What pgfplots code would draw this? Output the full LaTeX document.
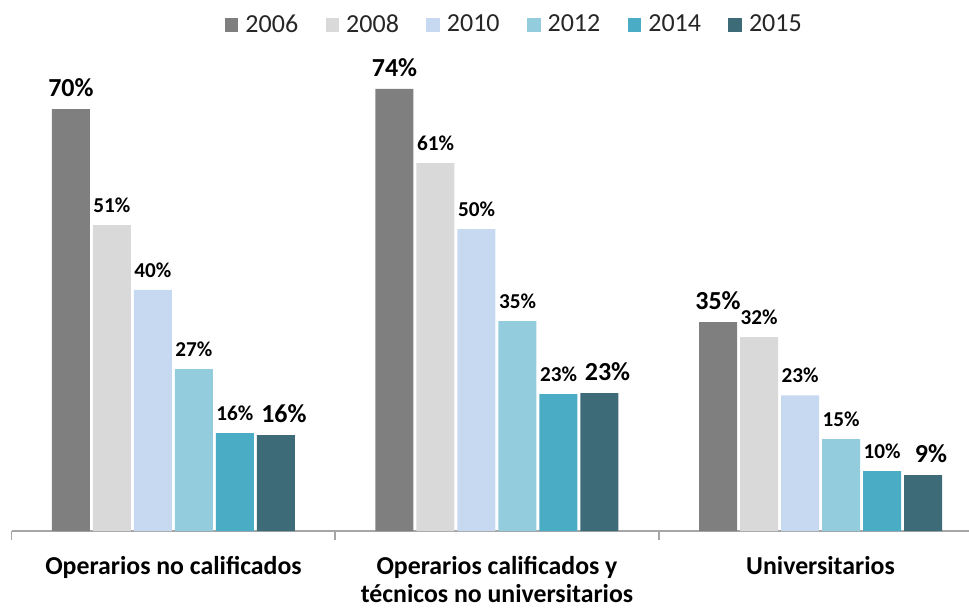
\documentclass[border=0pt]{standalone}
\usepackage{pgfplots}
\pgfplotsset{compat=1.18}
\usepackage{fontspec}
\setmainfont{Carlito}
\definecolor{c06}{HTML}{7F7F7F}
\definecolor{c08}{HTML}{D9D9D9}
\definecolor{c10}{HTML}{C6D9F1}
\definecolor{c12}{HTML}{93CDDD}
\definecolor{c14}{HTML}{4BACC6}
\definecolor{c15}{HTML}{3D6B78}
\definecolor{axisgray}{HTML}{A6A6A6}
\begin{document}
\begin{tikzpicture}
\begin{axis}[
  scale only axis, width=478.65pt, height=265.5pt,
  xmin=-0.5, xmax=2.459, ymin=0, ymax=88.5,
  ybar=1.5pt, bar width=19pt,
  hide y axis, axis x line*=bottom,
  x axis line style={axisgray, line width=0.8pt, -},
  xtick={0,1,2},
  xticklabels={Operarios no calificados, {Operarios calificados y\\técnicos no universitarios}, Universitarios},
  major tick length=0pt,
  minor xtick={-0.5,0.5,1.5}, minor tick length=4.5pt, tick align=outside,
  minor tick style={axisgray, line width=0.8pt},
  xticklabel style={font=\bfseries\fontsize{12.9}{13.8}\selectfont, align=center, anchor=north, inner sep=0pt, yshift=-12.5pt},
  clip=false,
  /pgf/number format/assume math mode=true,
  nodes near coords={\pgfmathprintnumber[fixed,precision=0,assume math mode=true]{\pgfplotspointmeta}\%},
  every node near coord/.append style={anchor=south, inner sep=0pt, yshift=6pt, font=\bfseries\fontsize{10.6}{12}\selectfont, text=black},
  legend columns=6,
  legend image code/.code={\fill[#1] (0pt,-3.3pt) rectangle (6.8pt,3.3pt);},
  legend style={draw=none, fill=none, inner sep=0pt, row sep=0pt,
    at={(0.524,0.953)}, anchor=center,
    font=\fontsize{13}{14}\selectfont, text=black!85,
    nodes={inner sep=0pt},
    /tikz/every odd column/.append style={column sep=3.5pt},
    /tikz/every even column/.append style={column sep=13.7pt}},
]
\addplot[fill=c06, draw=none, every node near coord/.append style={font=\bfseries\fontsize{13}{13}\selectfont}] coordinates {(0,70.3) (1,73.7) (2,34.8)};
\addplot[fill=c08, draw=none] coordinates {(0,51.0) (1,61.3) (2,32.3)};
\addplot[fill=c10, draw=none] coordinates {(0,40.2) (1,50.3) (2,22.6)};
\addplot[fill=c12, draw=none] coordinates {(0,27.0) (1,35.0) (2,15.3)};
\addplot[fill=c14, draw=none] coordinates {(0,16.3) (1,22.8) (2,10.0)};
\addplot[fill=c15, draw=none, every node near coord/.append style={font=\bfseries\fontsize{13}{13}\selectfont, xshift=4pt}] coordinates {(0,16.0) (1,23.0) (2,9.3)};
\legend{2006,2008,2010,2012,2014,2015}
\end{axis}
\pgfresetboundingbox
\path (-5.85pt,-38pt) rectangle (478.65pt,265.5pt);
\end{tikzpicture}
\end{document}
